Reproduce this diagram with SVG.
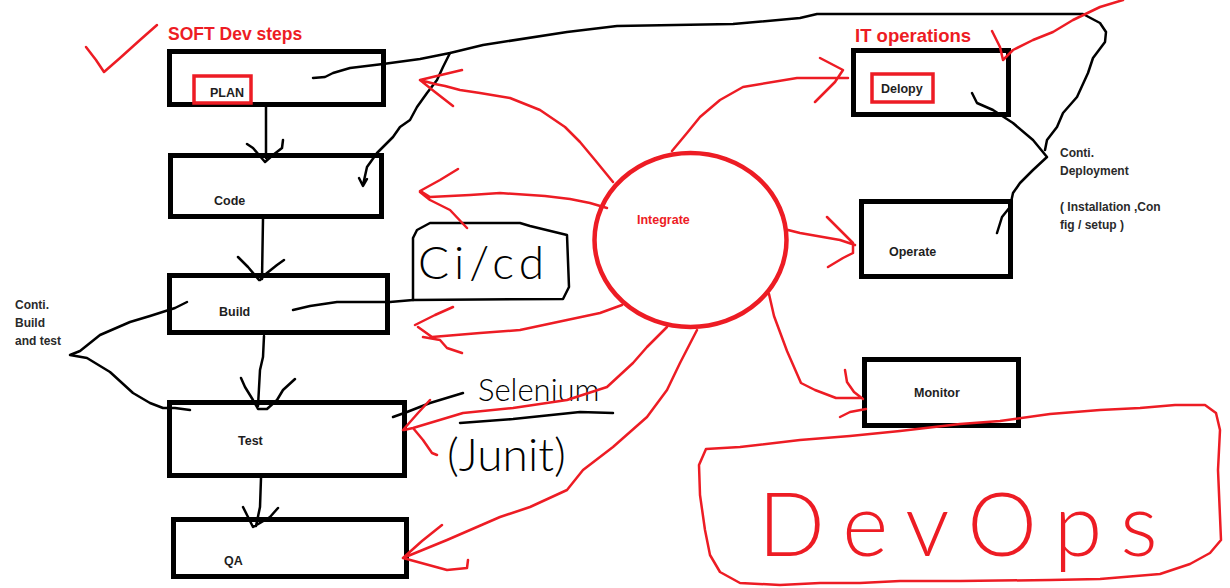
<svg xmlns="http://www.w3.org/2000/svg" width="1230" height="588" viewBox="0 0 1230 588">
<style>
.box{fill:none;stroke:#000;stroke-width:5}
.rbox{fill:none;stroke:#ED1C24;stroke-width:3.5}
.lbl{font-family:"Liberation Sans",Arial,sans-serif;font-weight:bold;font-size:12.5px;fill:#1e1e1e}
.note{font-family:"Liberation Sans",Arial,sans-serif;font-weight:bold;font-size:12px;fill:#2a2a2a}
.ttl{font-family:"Liberation Sans",Arial,sans-serif;font-weight:bold;font-size:17.5px;fill:#ED1C24}
.hand{font-family:Lato,"DejaVu Sans",sans-serif;font-weight:300;fill:#000}
.k{fill:none;stroke:#000;stroke-width:2.5;stroke-linecap:round;stroke-linejoin:round}
.r{fill:none;stroke:#ED1C24;stroke-width:2.5;stroke-linecap:round;stroke-linejoin:round}
</style>
<rect width="1230" height="588" fill="#fff"/>

<g id="titles">
<text class="ttl" x="168" y="40">SOFT Dev steps</text>
<text class="ttl" x="855" y="42" style="font-size:18.5px">IT operations</text>
<path class="r" d="M86,47 L96,60 L104,72 L120,58 L140,40 L157,25"/>
</g>

<g id="plan"><rect class="box" x="169.5" y="51.5" width="214" height="53"/><rect class="rbox" x="194" y="76" width="57" height="27"/><text class="lbl" x="210" y="97">PLAN</text></g>
<g id="code"><rect class="box" x="170.5" y="155.5" width="211" height="61"/><text class="lbl" x="214" y="205">Code</text></g>
<g id="build"><rect class="box" x="169.5" y="275.5" width="218" height="57"/><text class="lbl" x="219" y="316">Build</text></g>
<g id="test"><rect class="box" x="169.5" y="402.5" width="235" height="73"/><text class="lbl" x="238" y="445">Test</text></g>
<g id="qa"><rect class="box" x="173.5" y="519.5" width="233" height="57"/><text class="lbl" x="224" y="565">QA</text></g>
<g id="deploy"><rect class="box" x="853.5" y="50.5" width="155" height="64"/><rect class="rbox" x="872" y="74" width="61" height="28"/><text class="lbl" x="881" y="93">Delopy</text></g>
<g id="operate"><rect class="box" x="861.5" y="201.5" width="149" height="75"/><text class="lbl" x="889" y="256">Operate</text></g>
<g id="monitor"><rect class="box" x="864.5" y="359.5" width="154" height="66"/><text class="lbl" x="914" y="397">Monitor</text></g>
<g id="integrate"><ellipse cx="690.5" cy="240" rx="96" ry="87" fill="none" stroke="#ED1C24" stroke-width="4.5"/><text class="lbl" x="637" y="224" style="fill:#ED1C24">Integrate</text></g>

<g id="notes">
<text class="note" x="15" y="309">Conti.</text>
<text class="note" x="15" y="327">Build</text>
<text class="note" x="15" y="345">and test</text>
<text class="note" x="1060" y="157">Conti.</text>
<text class="note" x="1060" y="175">Deployment</text>
<text class="note" x="1060" y="211">( Installation ,Con</text>
<text class="note" x="1060" y="229">fig / setup )</text>
</g>

<g id="cicd">
<path class="k" d="M413,300 L413,238 L417,230 L430,223 L520,223 L530,226 L567,235 L569,287 L563,299 L413,300"/>
<text class="hand" x="418" y="279" font-size="46" letter-spacing="5">Ci/cd</text>
</g>

<g id="selenium">
<text class="hand" x="478" y="401" font-size="31">Selenium</text>
<text class="hand" x="447" y="471" font-size="46">(Junit)</text>
<path class="k" d="M460,423 L513,419 L580,412 L613,413"/>
</g>

<g id="devops">
<path class="r" d="M706,449 L740,447 L800,440 L850,436 L900,431 L960,424 L1000,421 L1050,414 L1100,410 L1140,408 L1175,405 L1205,405 L1216,413 L1220,430 L1218,470 L1221,540 L1210,553 L1190,564 L1160,574 L1100,579 L1050,580 L960,581 L900,581 L860,583 L820,583 L780,585 L740,583 L720,572 L710,555 L705,530 L700,495 L699,465 L706,449"/>
<text x="758" y="556" font-family="Lato,'DejaVu Sans',sans-serif" font-weight="300" font-size="88" letter-spacing="18" fill="#ED1C24">DevOps</text>
</g>

<g id="connectors">
<path class="k" d="M266,107 L266,158 M247,144 L253,148 L265,162 M283,140 L282,148 L273,155 L265,162"/>
<path class="k" d="M263,219 L262,279 M238,257 L248,267 L259,280 M284,260 L277,265 L267,273 L260,280"/>
<path class="k" d="M264,336 L263,357 L260,370 L258,406 M241,378 L245,387 L253,400 L258,409 L267,409 L277,400 L283,390 L295,379"/>
<path class="k" d="M261,478 L260,507 L256,526 M243,507 L248,517 L253,527 M278,508 L270,517 L260,523 L253,527"/>
<path class="k" d="M187,302 L175,308 L150,316 L130,322 L100,335 L80,351 L70,355 L87,358 L110,372 L133,393 L150,403 L163,408 L175,408 L190,410"/>
<path class="k" d="M293,310 L310,306 L337,302 L390,302 L413,300"/>
<path class="k" d="M313,78 L325,77 L333,73 L350,68 L383,64 L420,59 L450,53 L483,45 L567,32 L617,26 L733,24 L800,18 L817,14 L1083,14 L1100,23 L1106,32 L1105,42 L1093,58 L1088,73 L1077,97 L1063,113 L1057,127 L1047,140 L1045,150"/>
<path class="k" d="M450,53 L443,67 L437,80 L427,93 L417,107 L410,120 L400,127 L393,137 L377,153 L367,167 L363,185 M359,178 L363,186 L367,179"/>
<path class="k" d="M972,93 L977,103 L993,110 L1013,123 L1033,140 L1047,157 L1033,170 L1020,183 L1013,193 L1010,207 L1002,217 L997,233"/>
<path class="k" d="M393,417 L407,412 L430,403 L463,393"/>

<path class="r" d="M613,182 L595,160 L580,142 L565,127 L540,110 L510,98 L480,93 L460,90 L445,86 L435,84 L420,80 M420,80 L462,70 M420,80 L435,92 L453,106"/>
<path class="r" d="M607,208 L590,203 L570,199 L545,196 L500,193 L470,195 L430,197 L422,192 M420,191 L440,180 L458,169 M420,192 L430,200 L450,210 L467,228"/>
<path class="r" d="M622,305 L600,313 L567,320 L520,330 L480,333 L432,337 L418,327 M415,325 L435,315 L453,307 M423,337 L440,340 L447,348 L462,353"/>
<path class="r" d="M667,327 L647,347 L633,363 L607,387 L567,400 L513,408 L463,413 L413,428 L404,430 M403,430 L418,413 L430,400 M413,428 L423,440 L432,453 L437,455"/>
<path class="r" d="M697,330 L680,363 L667,390 L647,417 L613,447 L583,470 L567,490 L530,507 L500,517 L447,540 L403,558 M403,558 L422,541 L442,525 M403,558 L447,570 L467,568 L468,560"/>
<path class="r" d="M672,151 L687,133 L700,117 L720,100 L743,87 L797,78 L848,78 M820,58 L843,70 L835,82 L815,102"/>
<path class="r" d="M788,230 L800,233 L840,240 L855,245 M827,217 L853,243 L853,253 L843,258 L828,267"/>
<path class="r" d="M769,294 L774,316 L787,351 L801,383 L815,390 L836,398 L862,398 M845,370 L847,382 L854,392 L863,399 M840,417 L850,412 L866,409"/>
<path class="r" d="M992,31 L1000,47 L1003,60 L1013,50 L1033,40 L1053,32 L1073,20 L1100,7 L1123,0"/>
</g>
</svg>
